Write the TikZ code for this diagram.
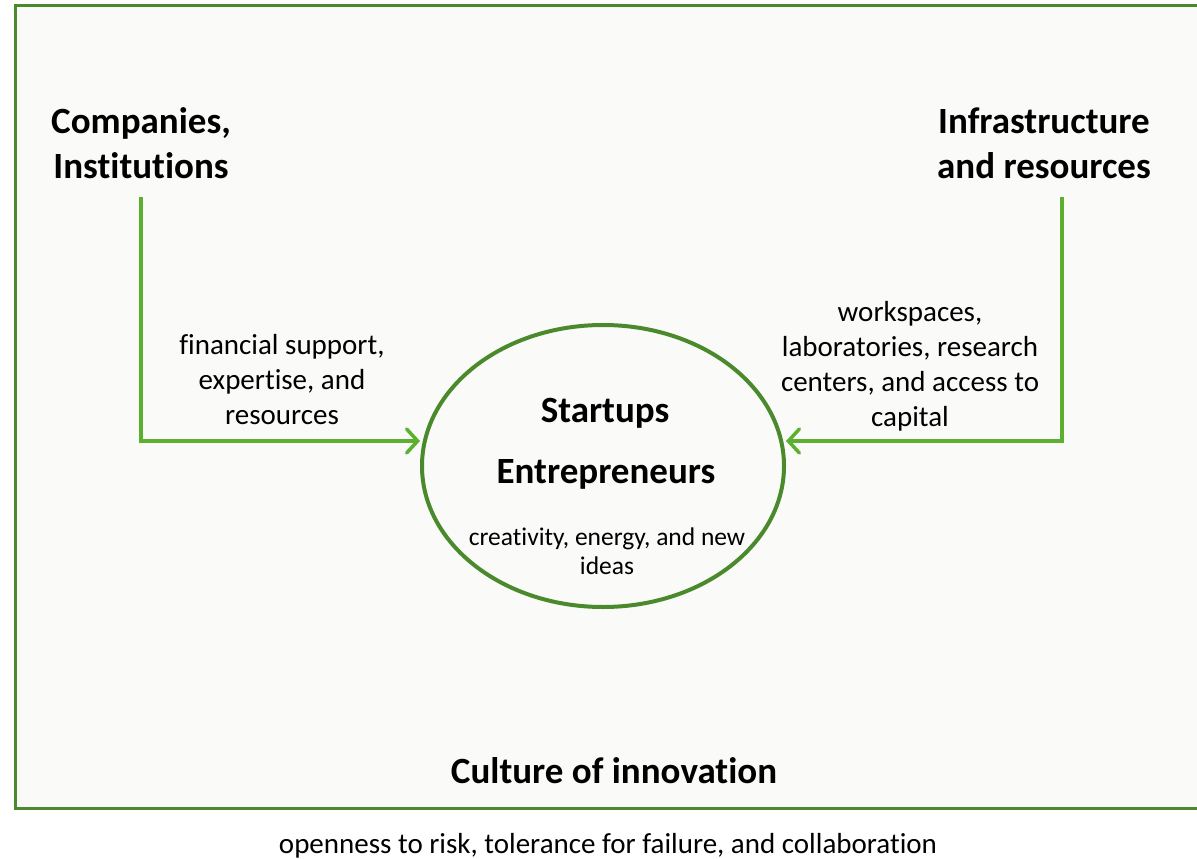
\documentclass[tikz,border=0pt]{standalone}
\usepackage{fontspec}
\setmainfont{Carlito}[RawFeature=-liga]
\usetikzlibrary{arrows.meta,shapes.geometric}
\definecolor{boxgreen}{HTML}{4A8A2C}
\definecolor{arrgreen}{HTML}{5BB030}
\definecolor{bgfill}{HTML}{FAFAF8}
\begin{document}
\begin{tikzpicture}[x=1pt,y=-1pt,
  head/.style={font=\fontsize{37}{45}\selectfont\bfseries, align=center, inner sep=0pt},
  lbl/.style={font=\fontsize{29}{35}\selectfont, align=center, inner sep=0pt},
  small/.style={font=\fontsize{25.5}{29}\selectfont, align=center, inner sep=0pt},
  conn/.style={draw=arrgreen, line width=3.5pt, -{Straight Barb[length=11pt,width=24pt,line cap=round]}},
]
\useasboundingbox (0,0) rectangle (1197,859);
\begin{scope}
\clip (0,0) rectangle (1197,859);
\draw[boxgreen, line width=3pt, fill=bgfill] (15,6) rectangle (1210,808);
\end{scope}
\node[draw=boxgreen, line width=4pt, ellipse, minimum width=362pt, minimum height=282pt, inner sep=0pt] (E) at (603,466) {};
\node[head] (ci) at (141,143) {Companies,\\Institutions};
\node[head] (ir) at (1044,143) {Infrastructure\\and resources};
\coordinate (l0) at (141,197);
\coordinate (l1) at (141,441);
\coordinate (r0) at (1062,197);
\coordinate (r1) at (1062,441);
\coordinate (le) at (420,441);
\coordinate (re) at (786,441);
\draw[conn] (l0) -- (l1) -- (le);
\draw[conn] (r0) -- (r1) -- (re);
\node[lbl] (fs) at (282,380) {financial support,\\expertise, and\\resources};
\node[lbl] (ws) at (910,366) {workspaces,\\laboratories, research\\centers, and access to\\capital};
\node[head] (st) at (605,413) {Startups};
\node[head] (en) at (606,474) {Entrepreneurs};
\node[small] (cr) at (607,551) {creativity, energy, and new\\ideas};
\node[head] (cu) at (614,771) {Culture of innovation};
\node[lbl] (op) at (608,846) {openness to risk, tolerance for failure, and collaboration};
\end{tikzpicture}
\end{document}
